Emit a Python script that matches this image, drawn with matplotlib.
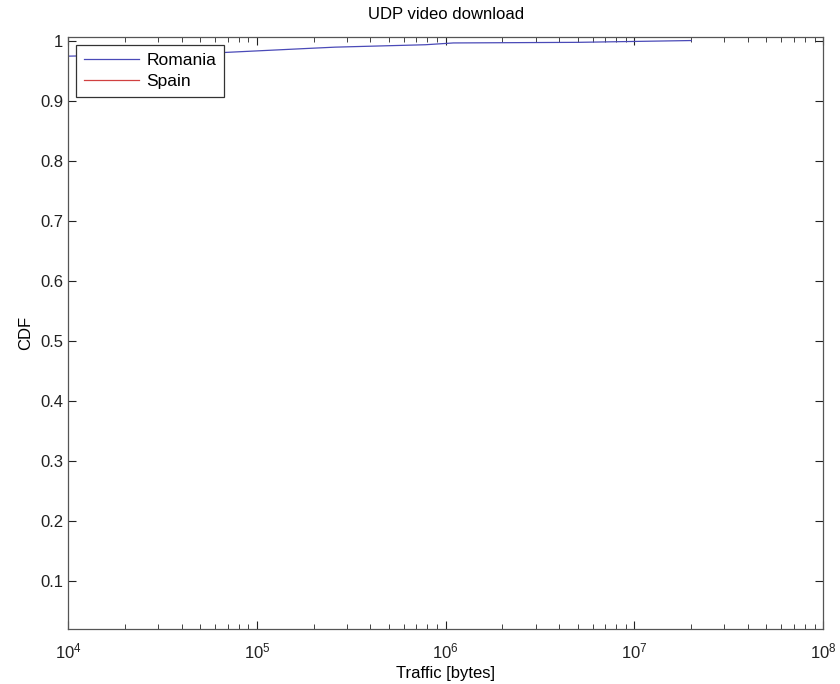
import numpy as np
import matplotlib
matplotlib.use('Agg')
import matplotlib.pyplot as plt

plt.rcParams['font.family'] = ['Liberation Sans', 'DejaVu Sans']

# CDF of traffic per country
romania_traffic = [1.0e4, 3.0e4, 6.6e4, 1.9e5, 2.6e5, 7.8e5, 1.1e6, 5.0e6, 2.0e7]
romania_cdf = [0.974, 0.977, 0.980, 0.987, 0.989, 0.993, 0.996, 0.997, 1.0]
spain_traffic = [1.5e3, 4.0e3, 9.0e3]
spain_cdf = [0.40, 0.80, 1.0]

yticks = [0.1, 0.2, 0.3, 0.4, 0.5, 0.6, 0.7, 0.8, 0.9, 1]
ytick_labels = ['0.1', '0.2', '0.3', '0.4', '0.5', '0.6', '0.7', '0.8', '0.9', '1']

fig = plt.figure(figsize=(8.4, 6.84), dpi=100)
ax = fig.add_axes([0.081, 0.080, 0.899, 0.866])

ax.plot(romania_traffic, romania_cdf, color='#4a4ab8', linewidth=0.9, label='Romania')
ax.plot(spain_traffic, spain_cdf, color='#d04040', linewidth=0.9, label='Spain')

ax.set_xscale('log')
ax.set_xlim(1e4, 1e8)
ax.set_ylim(0.02, 1.006)
ax.set_yticks(yticks)
ax.set_yticklabels(ytick_labels)
ax.set_xticks([1e4, 1e5, 1e6, 1e7, 1e8])

ax.tick_params(which='both', direction='in', top=True, right=True,
               labelsize=12, colors='#222222')
ax.tick_params(which='major', length=6)
ax.tick_params(which='minor', length=3.5)
ax.tick_params(axis='x', which='major', pad=9)
for s in ax.spines.values():
    s.set_color('#555555')
    s.set_linewidth(0.9)

ax.set_title('UDP video download', fontsize=12, pad=13)
ax.set_xlabel('Traffic [bytes]', fontsize=12, labelpad=3)
ax.set_ylabel('CDF', fontsize=12, labelpad=5)

leg = ax.legend(loc='upper left', fontsize=12.5, fancybox=False, framealpha=1,
                edgecolor='#333333', borderpad=0.45, handlelength=3.2,
                handletextpad=0.4, labelspacing=0.35, borderaxespad=0.45)
leg.get_frame().set_linewidth(0.9)

plt.savefig('out.png', dpi=100)
